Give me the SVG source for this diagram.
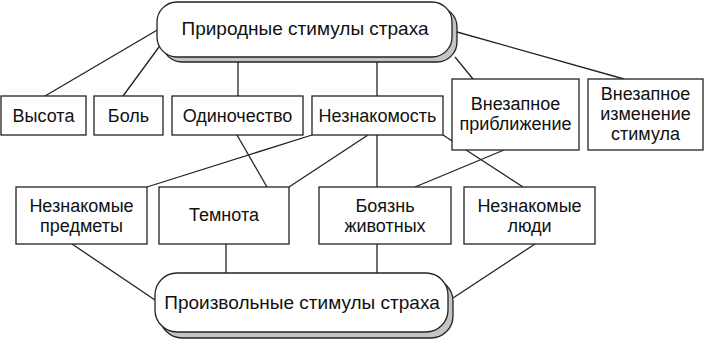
<svg xmlns="http://www.w3.org/2000/svg" width="704" height="341" viewBox="0 0 704 341">
<style>
.bx{fill:#fff;stroke:#222;stroke-width:1.3}
.sh{fill:#c4c4c4;stroke:#222;stroke-width:1.3}
.ln{stroke:#222;stroke-width:1.3;fill:none}
text{font-family:"Liberation Sans",Arial,sans-serif;font-size:18px;fill:#111;text-anchor:middle}
.t{font-size:19px}
</style>
<rect width="704" height="341" fill="#fff"/>
<g id="connectors" class="ln">
<line x1="159" y1="29" x2="45" y2="96"/>
<line x1="159" y1="47" x2="123" y2="96"/>
<line x1="238" y1="62" x2="238" y2="96"/>
<line x1="377" y1="62" x2="377" y2="96"/>
<line x1="455" y1="57" x2="473" y2="79"/>
<line x1="457" y1="32" x2="624" y2="79"/>
<line x1="312" y1="135" x2="147" y2="187"/>
<line x1="237" y1="135" x2="267" y2="187"/>
<line x1="368" y1="135" x2="289" y2="187"/>
<line x1="377" y1="135" x2="377" y2="187"/>
<line x1="443" y1="135" x2="523" y2="187"/>
<line x1="504" y1="150" x2="415" y2="187"/>
<line x1="72" y1="244" x2="155" y2="300"/>
<line x1="226" y1="244" x2="226" y2="273"/>
<line x1="377" y1="244" x2="377" y2="273"/>
<line x1="535" y1="244" x2="453" y2="298"/>
</g>
<g id="natural">
<rect class="sh" x="162" y="7" width="295" height="55" rx="20"/>
<rect class="bx" x="157" y="2" width="295" height="55" rx="20"/>
<text class="t" x="305" y="35">Природные стимулы страха</text>
</g>
<g id="vysota"><rect class="bx" x="1" y="96" width="85" height="39"/><text x="43.5" y="122">Высота</text></g>
<g id="bol"><rect class="bx" x="94" y="96" width="69" height="39"/><text x="128.5" y="122">Боль</text></g>
<g id="odinochestvo"><rect class="bx" x="172" y="96" width="131" height="39"/><text x="237.5" y="122">Одиночество</text></g>
<g id="neznakomost"><rect class="bx" x="312" y="96" width="131" height="39"/><text x="377.5" y="122">Незнакомость</text></g>
<g id="priblizhenie"><rect class="bx" x="452" y="79" width="127" height="71"/><text x="515.5" y="110">Внезапное</text><text x="515.5" y="130">приближение</text></g>
<g id="izmenenie"><rect class="bx" x="588" y="79" width="115" height="71"/><text x="645.5" y="100">Внезапное</text><text x="645.5" y="120">изменение</text><text x="645.5" y="140">стимула</text></g>
<g id="predmety"><rect class="bx" x="16" y="187" width="131" height="57"/><text x="81.5" y="212">Незнакомые</text><text x="81.5" y="232">предметы</text></g>
<g id="temnota"><rect class="bx" x="159" y="187" width="130" height="57"/><text x="224" y="221">Темнота</text></g>
<g id="zhivotnye"><rect class="bx" x="319" y="187" width="132" height="57"/><text x="385" y="212">Боязнь</text><text x="385" y="232">животных</text></g>
<g id="lyudi"><rect class="bx" x="464" y="187" width="131" height="57"/><text x="529.5" y="212">Незнакомые</text><text x="529.5" y="232">люди</text></g>
<g id="arbitrary">
<rect class="sh" x="160" y="279" width="293" height="59" rx="22"/>
<rect class="bx" x="155" y="273" width="293" height="59" rx="22"/>
<text class="t" x="302" y="309">Произвольные стимулы страха</text>
</g>
</svg>
